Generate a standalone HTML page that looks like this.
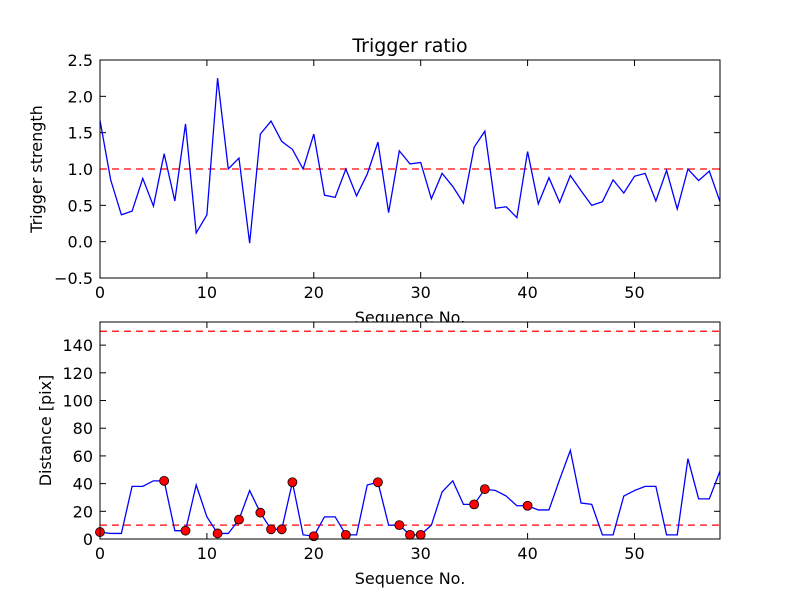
<!DOCTYPE html>
<html><head><meta charset="utf-8"><style>
body{margin:0;background:#fff}
svg text{font-family:"DejaVu Sans","Liberation Sans",sans-serif;fill:#000}
</style></head><body>
<svg id="c" width="800" height="600" xmlns="http://www.w3.org/2000/svg"></svg>
<script>
const seqNo = Array.from({length:59},(_,i)=>i);
const triggerStrength = [1.67,0.85,0.37,0.42,0.87,0.49,1.21,0.56,1.62,0.12,0.37,2.25,1.0,1.15,-0.02,1.48,1.66,1.38,1.27,1.0,1.48,0.64,0.61,1.0,0.63,0.93,1.37,0.40,1.25,1.07,1.09,0.59,0.94,0.76,0.53,1.30,1.52,0.46,0.48,0.33,1.24,0.52,0.88,0.54,0.91,0.70,0.50,0.55,0.85,0.67,0.90,0.94,0.56,0.98,0.45,1.00,0.84,0.97,0.55];
const distance = [5,4,4,38,38,42,42,6,6,39,16,4,4,14,35,19,7,7,41,3,2,16,16,3,3,39,41,10,10,3,3,10,34,42,25,25,36,35,31,24,24,21,21,43,64,26,25,3,3,31,35,38,38,3,3,58,29,29,49];
const markerIdx = [0,6,8,11,13,15,16,17,18,20,23,26,28,29,30,35,36,40];
const topYTicks = [-0.5,0.0,0.5,1.0,1.5,2.0,2.5];
const botYTicks = [0,20,40,60,80,100,120,140];
const xTicks = [0,10,20,30,40,50];
const triggerThreshold = 1.0;
const distThresholds = [10,150];

const NS="http://www.w3.org/2000/svg";
const svg=document.getElementById('c');
function mk(tag,attrs,parent){const e=document.createElementNS(NS,tag);for(const k in attrs)e.setAttribute(k,attrs[k]);(parent||svg).appendChild(e);return e;}
function txt(x,y,s,size,anchor,parent,rot){const t=mk('text',{x:x,y:y,'font-size':size,'text-anchor':anchor},parent);if(rot)t.setAttribute('transform',`rotate(-90 ${x} ${y})`);t.textContent=s;return t;}

function panel(name,L,T,W,H,ymin,ymax,yticks,yfmt,ylabel,title,ylx){
  const g=mk('g',{});
  
  
  const sx=v=>L+(v-0)/(58-0)*W, sy=v=>T+H-(v-ymin)/(ymax-ymin)*H;
  mk('rect',{x:L,y:T,width:W,height:H,fill:'#fff'},g);
  xTicks.forEach(v=>{const x=sx(v);mk('line',{x1:x,x2:x,y1:T+H,y2:T+H-6,stroke:'#000'},g);mk('line',{x1:x,x2:x,y1:T,y2:T+6,stroke:'#000'},g);
    const t=txt(x,T+H+20,String(v),16,'middle',g);});
  yticks.forEach(v=>{const y=sy(v);mk('line',{x1:L,x2:L+6,y1:y,y2:y,stroke:'#000'},g);mk('line',{x1:L+W,x2:L+W-6,y1:y,y2:y,stroke:'#000'},g);
    const t=txt(L-7,y+6,yfmt(v),16,'end',g);});
  const xl=txt(L+W/2,T+H+45,'Sequence No.',16,'middle',g);
  const yl=txt(ylx,T+H/2,ylabel,16,'middle',g,true);
  if(title){const tt=txt(L+W/2,T-8,title,19,'middle',g);}
  return {g,sx,sy,L,T,W,H};
}
const fmt1=v=>(v<0?'\u2212':'')+Math.abs(v).toFixed(1);
const p1=panel('trigger-ratio-panel',100,60,620,218,-0.5,2.5,topYTicks,fmt1,'Trigger strength','Trigger ratio',42);
const p2=panel('distance-panel',100,322,620,217,0,156.7,botYTicks,v=>String(v),'Distance [pix]',null,51);

function clip(p,id){const cp=mk('clipPath',{id:id});mk('rect',{x:p.L,y:p.T,width:p.W,height:p.H},cp);}
clip(p1,'c1');clip(p2,'c2');

let h=mk('line',{x1:p1.L,x2:p1.L+p1.W,y1:p1.sy(triggerThreshold),y2:p1.sy(triggerThreshold),stroke:'#f00','stroke-dasharray':'7,5','stroke-width':1.2},p1.g);


let l1=mk('polyline',{points:seqNo.map(i=>p1.sx(i)+','+p1.sy(triggerStrength[i])).join(' '),fill:'none',stroke:'#00f','stroke-width':1.3,'clip-path':'url(#c1)'},p1.g);



distThresholds.forEach(v=>{const e=mk('line',{x1:p2.L,x2:p2.L+p2.W,y1:p2.sy(v),y2:p2.sy(v),stroke:'#f00','stroke-dasharray':'7,5','stroke-width':1.2},p2.g);
  
  });
let l2=mk('polyline',{points:seqNo.map(i=>p2.sx(i)+','+p2.sy(distance[i])).join(' '),fill:'none',stroke:'#00f','stroke-width':1.3,'clip-path':'url(#c2)'},p2.g);


markerIdx.forEach(i=>{const c=mk('circle',{cx:p2.sx(i),cy:p2.sy(distance[i]),r:4.5,fill:'#f00',stroke:'#000','stroke-width':0.8},p2.g);
  
  });

[p1,p2].forEach(p=>mk('rect',{x:p.L,y:p.T,width:p.W,height:p.H,fill:'none',stroke:'#000','stroke-width':1},p.g));
</script>
</body></html>
